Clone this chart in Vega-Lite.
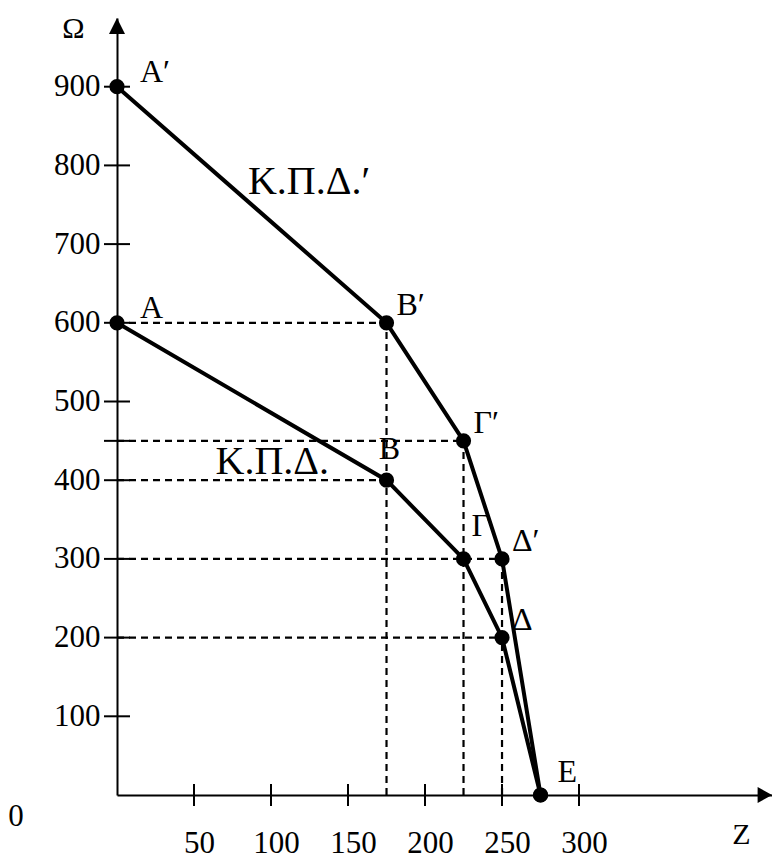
{
  "$schema": "https://vega.github.io/schema/vega-lite/v6.json",
  "width": 655,
  "height": 777,
  "autosize": {"type": "none"},
  "padding": {"left": 117, "top": 18, "right": 0, "bottom": 64},
  "background": "white",
  "config": {"view": {"stroke": null}, "font": "Liberation Serif, Times New Roman, serif"},
  "datasets": {
    "frontier": [
      {"curve": "Κ.Π.Δ.′", "label": "Α′", "z": 0, "omega": 900},
      {"curve": "Κ.Π.Δ.′", "label": "Β′", "z": 175, "omega": 600},
      {"curve": "Κ.Π.Δ.′", "label": "Γ′", "z": 225, "omega": 450},
      {"curve": "Κ.Π.Δ.′", "label": "Δ′", "z": 250, "omega": 300},
      {"curve": "Κ.Π.Δ.′", "label": "Ε", "z": 275, "omega": 0},
      {"curve": "Κ.Π.Δ.", "label": "Α", "z": 0, "omega": 600},
      {"curve": "Κ.Π.Δ.", "label": "Β", "z": 175, "omega": 400},
      {"curve": "Κ.Π.Δ.", "label": "Γ", "z": 225, "omega": 300},
      {"curve": "Κ.Π.Δ.", "label": "Δ", "z": 250, "omega": 200},
      {"curve": "Κ.Π.Δ.", "label": "Ε", "z": 275, "omega": 0}
    ],
    "guides": [
      {"z": 0, "z2": 175, "omega": 600, "omega2": 600},
      {"z": 0, "z2": 225, "omega": 450, "omega2": 450},
      {"z": 0, "z2": 175, "omega": 400, "omega2": 400},
      {"z": 0, "z2": 250, "omega": 300, "omega2": 300},
      {"z": 0, "z2": 250, "omega": 200, "omega2": 200},
      {"z": 175, "z2": 175, "omega": 0, "omega2": 600},
      {"z": 225, "z2": 225, "omega": 0, "omega2": 450},
      {"z": 250, "z2": 250, "omega": 0, "omega2": 300}
    ],
    "yticks": [{"v": 100}, {"v": 200}, {"v": 300}, {"v": 400}, {"v": 450}, {"v": 500}, {"v": 600}, {"v": 700}, {"v": 800}, {"v": 900}],
    "xticks": [{"v": 50}, {"v": 100}, {"v": 150}, {"v": 200}, {"v": 250}, {"v": 300}],
    "curveLabels": [
      {"text": "Κ.Π.Δ.′", "z": 85, "omega": 779},
      {"text": "Κ.Π.Δ.", "z": 64, "omega": 423}
    ],
    "origin": [{"z": 0, "omega": 0, "text": "0"}],
    "axisEnds": [{"axis": "Ω", "z": 0, "omega": 987.3}, {"axis": "Ζ", "z": 425.3, "omega": 0}]
  },
  "layer": [
    {
      "data": {"name": "guides"},
      "mark": {"type": "rule", "strokeDash": [7, 5], "strokeWidth": 2.2, "color": "black"},
      "encoding": {
        "x": {
          "field": "z", "type": "quantitative",
          "scale": {"domain": [0, 425.3], "nice": false, "zero": false},
          "axis": {
            "values": [50, 100, 150, 200, 250, 300], "format": "d",
            "ticks": false, "tickSize": 0, "grid": false,
            "domainColor": "black", "domainWidth": 2,
            "labelFont": "Liberation Serif, Times New Roman, serif", "labelFontSize": 31, "labelColor": "black",
            "labelBaseline": "alphabetic", "labelPadding": 57, "labelOffset": 5,
            "labelFlush": false, "labelOverlap": false,
            "title": "Ζ", "titleX": 624, "titleY": 48, "titleAlign": "center",
            "titleBaseline": "alphabetic", "titleAngle": 0,
            "titleFont": "Liberation Serif, Times New Roman, serif", "titleFontSize": 30, "titleFontWeight": "normal", "titleColor": "black"
          }
        },
        "x2": {"field": "z2"},
        "y": {
          "field": "omega", "type": "quantitative",
          "scale": {"domain": [0, 987.3], "nice": false, "zero": false},
          "axis": {
            "values": [100, 200, 300, 400, 500, 600, 700, 800, 900], "format": "d",
            "ticks": false, "tickSize": 0, "grid": false,
            "domainColor": "black", "domainWidth": 2,
            "labelFont": "Liberation Serif, Times New Roman, serif", "labelFontSize": 31, "labelColor": "black",
            "labelBaseline": "middle", "labelPadding": 17, "labelOverlap": false, "labelFlush": false,
            "title": "Ω", "titleX": -44, "titleY": 19, "titleAlign": "center",
            "titleBaseline": "alphabetic", "titleAngle": 0,
            "titleFont": "Liberation Serif, Times New Roman, serif", "titleFontSize": 30, "titleFontWeight": "normal", "titleColor": "black"
          }
        },
        "y2": {"field": "omega2"}
      }
    },
    {
      "data": {"name": "frontier"},
      "mark": {"type": "line", "strokeWidth": 4, "color": "black"},
      "encoding": {
        "x": {"field": "z", "type": "quantitative"},
        "y": {"field": "omega", "type": "quantitative"},
        "detail": {"field": "curve", "type": "nominal"}
      }
    },
    {
      "data": {"name": "frontier"},
      "mark": {"type": "circle", "size": 230, "color": "black", "opacity": 1},
      "encoding": {
        "x": {"field": "z", "type": "quantitative"},
        "y": {"field": "omega", "type": "quantitative"}
      }
    },
    {
      "data": {"name": "yticks"},
      "mark": {"type": "tick", "orient": "horizontal", "size": 26, "thickness": 2, "color": "black", "opacity": 1},
      "encoding": {
        "x": {"datum": 0, "type": "quantitative"},
        "y": {"field": "v", "type": "quantitative"}
      }
    },
    {
      "data": {"name": "xticks"},
      "mark": {"type": "tick", "orient": "vertical", "size": 22, "thickness": 2, "color": "black", "opacity": 1},
      "encoding": {
        "x": {"field": "v", "type": "quantitative"},
        "y": {"datum": 0, "type": "quantitative"}
      }
    },
    {
      "data": {"name": "frontier"},
      "transform": [{"filter": {"field": "label", "oneOf": ["Β′", "Γ′", "Δ′", "Δ"]}}],
      "mark": {"type": "text", "align": "left", "baseline": "middle", "dx": 10, "dy": -18, "fontSize": 32, "font": "Liberation Serif, Times New Roman, serif", "color": "black"},
      "encoding": {
        "x": {"field": "z", "type": "quantitative"},
        "y": {"field": "omega", "type": "quantitative"},
        "text": {"field": "label"}
      }
    },
    {
      "data": {"name": "frontier"},
      "transform": [{"filter": {"field": "label", "oneOf": ["Α′", "Α"]}}],
      "mark": {"type": "text", "align": "left", "baseline": "middle", "dx": 23, "dy": -15, "fontSize": 32, "font": "Liberation Serif, Times New Roman, serif", "color": "black"},
      "encoding": {
        "x": {"field": "z", "type": "quantitative"},
        "y": {"field": "omega", "type": "quantitative"},
        "text": {"field": "label"}
      }
    },
    {
      "data": {"name": "frontier"},
      "transform": [{"filter": "datum.label == 'Ε' && datum.curve == 'Κ.Π.Δ.'"}],
      "mark": {"type": "text", "align": "left", "baseline": "middle", "dx": 17, "dy": -23, "fontSize": 32, "font": "Liberation Serif, Times New Roman, serif", "color": "black"},
      "encoding": {
        "x": {"field": "z", "type": "quantitative"},
        "y": {"field": "omega", "type": "quantitative"},
        "text": {"field": "label"}
      }
    },
    {
      "data": {"name": "frontier"},
      "transform": [{"filter": {"field": "label", "oneOf": ["Β"]}}],
      "mark": {"type": "text", "align": "center", "baseline": "middle", "dx": 3, "dy": -31, "fontSize": 32, "font": "Liberation Serif, Times New Roman, serif", "color": "black"},
      "encoding": {
        "x": {"field": "z", "type": "quantitative"},
        "y": {"field": "omega", "type": "quantitative"},
        "text": {"field": "label"}
      }
    },
    {
      "data": {"name": "frontier"},
      "transform": [{"filter": {"field": "label", "oneOf": ["Γ"]}}],
      "mark": {"type": "text", "align": "left", "baseline": "middle", "dx": 8, "dy": -33, "fontSize": 32, "font": "Liberation Serif, Times New Roman, serif", "color": "black"},
      "encoding": {
        "x": {"field": "z", "type": "quantitative"},
        "y": {"field": "omega", "type": "quantitative"},
        "text": {"field": "label"}
      }
    },
    {
      "data": {"name": "curveLabels"},
      "mark": {"type": "text", "align": "left", "baseline": "middle", "fontSize": 40, "font": "Liberation Serif, Times New Roman, serif", "color": "black"},
      "encoding": {
        "x": {"field": "z", "type": "quantitative"},
        "y": {"field": "omega", "type": "quantitative"},
        "text": {"field": "text"}
      }
    },
    {
      "data": {"name": "origin"},
      "mark": {"type": "text", "align": "center", "baseline": "alphabetic", "dx": -101, "dy": 31, "fontSize": 31, "font": "Liberation Serif, Times New Roman, serif", "color": "black"},
      "encoding": {
        "x": {"field": "z", "type": "quantitative"},
        "y": {"field": "omega", "type": "quantitative"},
        "text": {"field": "text"}
      }
    },
    {
      "data": {"name": "axisEnds"},
      "transform": [{"filter": "datum.axis == 'Ω'"}],
      "mark": {"type": "point", "shape": "M0,0L-1,2L1,2Z", "size": 256, "filled": true, "color": "black", "opacity": 1, "strokeWidth": 0},
      "encoding": {
        "x": {"field": "z", "type": "quantitative"},
        "y": {"field": "omega", "type": "quantitative"}
      }
    },
    {
      "data": {"name": "axisEnds"},
      "transform": [{"filter": "datum.axis == 'Ζ'"}],
      "mark": {"type": "point", "shape": "M0,0L-1.8,-1L-1.8,1Z", "size": 256, "filled": true, "color": "black", "opacity": 1, "strokeWidth": 0},
      "encoding": {
        "x": {"field": "z", "type": "quantitative"},
        "y": {"field": "omega", "type": "quantitative"}
      }
    }
  ]
}
